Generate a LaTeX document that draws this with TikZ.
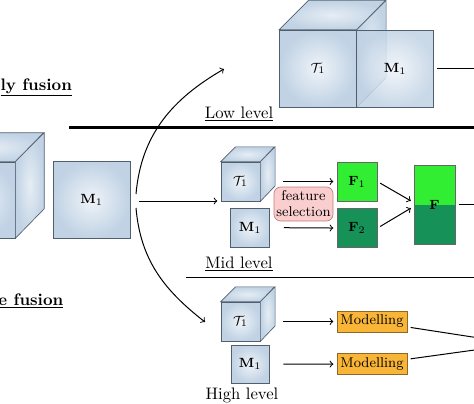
\documentclass[tikz,border=0pt]{standalone}
\usetikzlibrary{positioning,shapes,arrows}
\def\px{0.6pt}
\definecolor{cubeblue}{RGB}{192,210,228}
\definecolor{cubeline}{RGB}{80,94,110}
\definecolor{lightgreen}{RGB}{50,238,50}
\definecolor{darkgreen}{RGB}{22,146,88}
\definecolor{modorange}{RGB}{248,181,55}
\definecolor{modborder}{RGB}{140,105,40}
\definecolor{selpink}{RGB}{250,206,206}
\definecolor{selborder}{RGB}{200,120,120}
\tikzstyle{face}=[draw=cubeline,thin,inner color=cubeblue!25,outer color=cubeblue,font=\footnotesize,inner sep=0pt]
\tikzstyle{side}=[draw=cubeline,thin,inner color=cubeblue!40,outer color=cubeblue]
\tikzstyle{feat}=[draw=black!60,thin,minimum width=40*\px,minimum height=39*\px,font=\footnotesize]
\tikzstyle{fused}=[feat,minimum width=41*\px,minimum height=79*\px,fill=lightgreen,
  path picture={\fill[darkgreen] (path picture bounding box.west) rectangle (path picture bounding box.south east);}]
\tikzstyle{sel}=[draw=selborder,thin,fill=selpink,rounded corners=4pt,align=center,inner sep=1pt,
  minimum width=59*\px,minimum height=34*\px,font=\fontsize{8.5}{9.6}\selectfont]
\tikzstyle{model}=[draw=modborder,thin,fill=modorange,minimum width=70*\px,minimum height=21*\px,inner sep=1pt,
  font=\fontsize{8.5}{10}\selectfont]
\tikzstyle{lvl}=[anchor=base,inner sep=0pt]
\tikzstyle{sep}=[shorten >=0pt,shorten <=0pt]
\newcommand{\newCube}[4]{%
  \node[face,minimum size=#4*\px](#1) at #3 {#2};
  \path[side] (#1.north west) -- ++(0.38*#4,0.38*#4) -- ++(#4,0) -- (#1.north east) -- cycle;
  \path[side] (#1.north east) -- ++(0.38*#4,0.38*#4) -- ++(0,-#4) -- (#1.south east) -- cycle;}

\begin{document}
\begin{tikzpicture}[x=\px,y=\px,>=to,shorten >=2pt,shorten <=2pt,semithick]
  \useasboundingbox (0,0) rectangle (474,-403);
  \clip (0,0) rectangle (474,-403);

  % inputs
  \newCube{T0}{}{(-23,-200)}{76}
  \node[face,minimum size=77*\px](M0) at (91.5,-200) {$\mathbf{M}_1$};
  \node[anchor=base west,inner sep=0pt](early) at (0,-90) {\underline{\textbf{ly fusion}}};
  \node[anchor=base west,inner sep=0pt](late) at (-2,-305) {\underline{\textbf{e fusion}}};

  % low level
  \newCube{Tlow}{$\mathcal{T}_1$}{(318,-68.5)}{77}
  \node[face,fill opacity=.85,text opacity=1,minimum size=77*\px,right=-0.3pt of Tlow](Mlow){$\mathbf{M}_1$};
  \node[lvl](lowlbl) at (239,-118) {\underline{Low level}};
  \draw[sep,line width=1.8pt] (69,-127) -- (480,-127);

  % mid level
  \newCube{Tmid}{$\mathcal{T}_1$}{(240.5,-181.5)}{39}
  \node[face,minimum size=39*\px](Mmid) at (250,-227.5) {$\mathbf{M}_1$};
  \node[sel](sel) at (303.5,-204) {feature\\selection};
  \node[feat,fill=lightgreen](F1) at (357,-181.5) {$\mathbf{F}_1$};
  \node[feat,fill=darkgreen,below=4.2pt of F1](F2) {$\mathbf{F}_2$};
  \node[fused](F) at (434.5,-204.5) {$\mathbf{F}$};
  \node[lvl](midlbl) at (239,-268) {\underline{Mid level}};
  \draw[sep] (186,-277.5) -- (480,-277.5);

  % high level
  \newCube{Thigh}{$\mathcal{T}_1$}{(240.5,-321.5)}{39}
  \node[face,minimum size=38*\px](Mhigh) at (250,-364) {$\mathbf{M}_1$};
  \node[model](mod1) at (372,-321.5) {Modelling};
  \node[model,below=12.6pt of mod1](mod2) {Modelling};
  \node[lvl](highlbl) at (242,-399.5) {\underline{High level}};

  % connectors
  \coordinate (split) at (136,-201);
  \coordinate (lowin) at (224,-69);
  \coordinate (highin) at (205,-322);
  \draw[->,sep] ([yshift=4.2pt]split) to[out=85,in=210] (lowin);
  \draw[->,sep] ([yshift=-4.2pt]split) to[out=-85,in=142] (highin);
  \draw[->] (split) -- (Tmid.west |- split);
  \draw[->,shorten <=23*\px] (Tmid) -- (F1);
  \draw[->,shorten <=14*\px] (Mmid) -- (F2);
  \draw[->] (F1.east) -- ([yshift=2*\px]F.west);
  \draw[->] (F2.east) -- ([yshift=-2*\px]F.west);
  \draw[->,shorten <=23*\px] (Thigh) -- (mod1);
  \draw[->,shorten <=14*\px] (Mhigh) -- (mod2);
  \coordinate (lowout) at (495,-68.5);
  \coordinate (midout) at (495,-204.5);
  \coordinate (highout) at (518,-344);
  \draw (Mlow) -- (lowout);
  \draw (F) -- (midout);
  \draw (mod1) -- (highout);
  \draw (mod2) -- (highout);
\end{tikzpicture}
\end{document}
